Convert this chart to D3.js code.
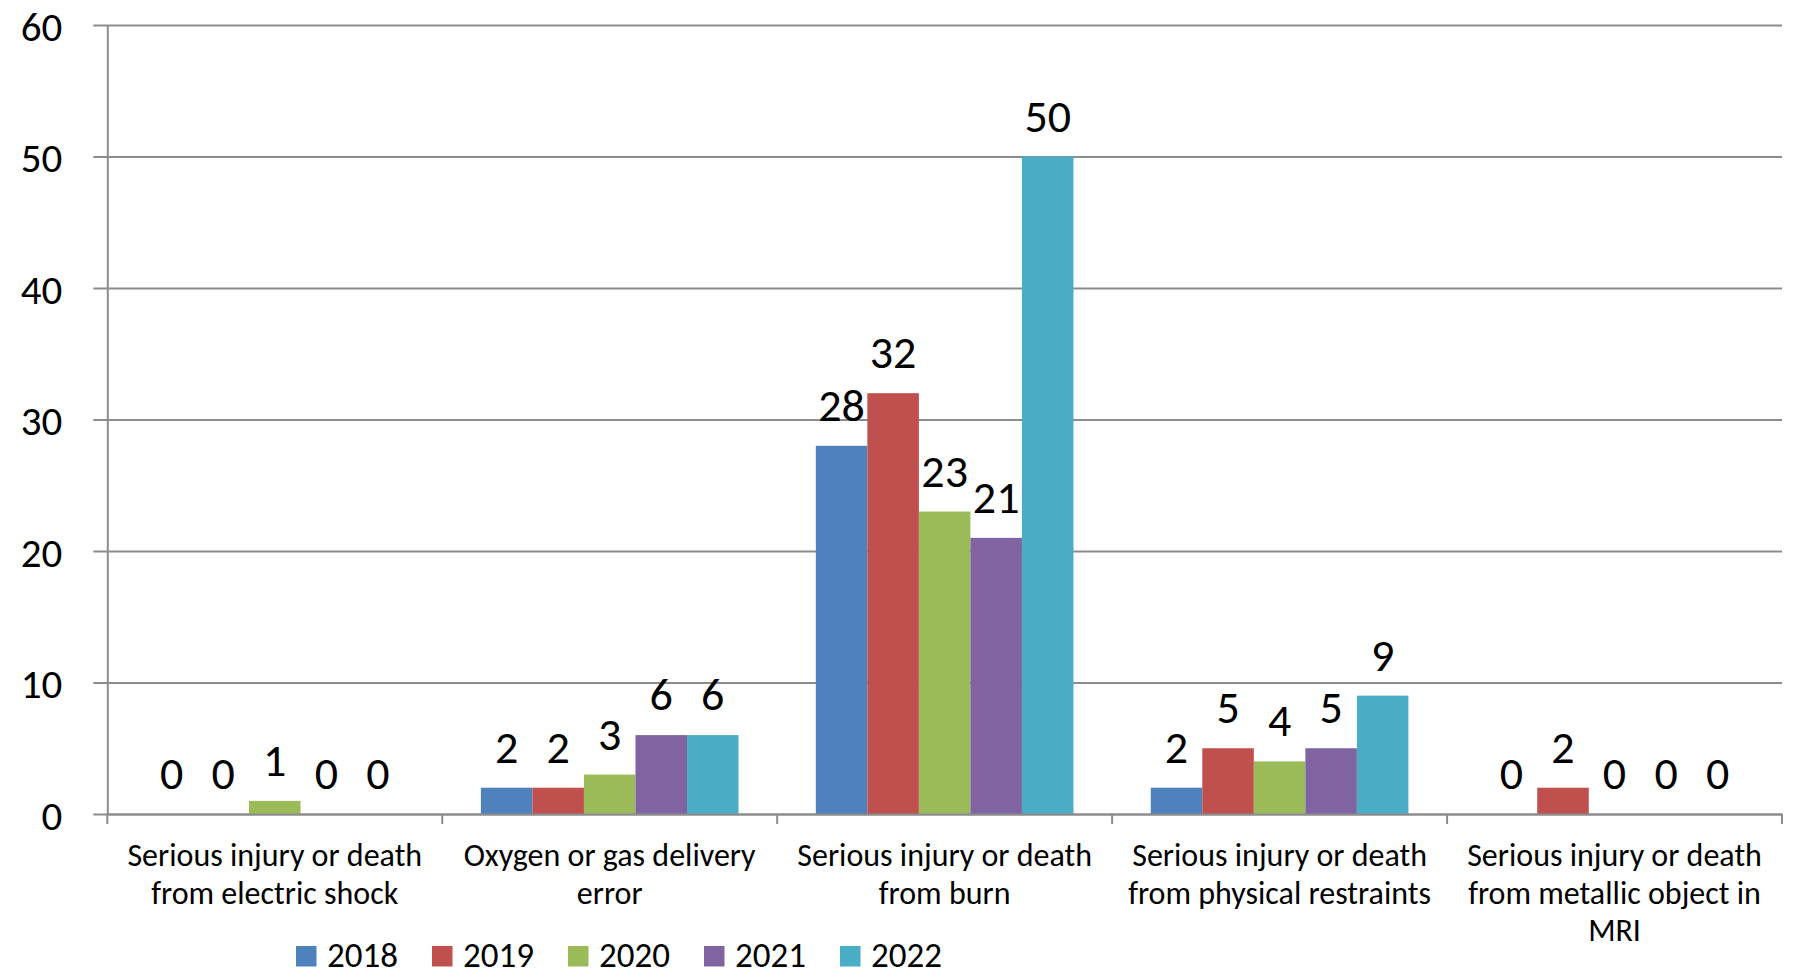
<!DOCTYPE html>
<html>
<head>
<meta charset="utf-8">
<script src="https://cdn.jsdelivr.net/npm/d3@7"></script>
<style>
  html, body { margin: 0; padding: 0; background: #fff; }
  svg { display: block; }
  text { font-family: Carlito, Calibri, Lato, sans-serif; fill: #000; }
</style>
</head>
<body>
<svg id="chart" width="1795" height="977"></svg>
<script>
// Incident categories and yearly counts
const categories = [
  "Serious injury or death from electric shock",
  "Oxygen or gas delivery error",
  "Serious injury or death from burn",
  "Serious injury or death from physical restraints",
  "Serious injury or death from metallic object in MRI"
];
const years = ["2018", "2019", "2020", "2021", "2022"];
const values2018 = [0, 2, 28, 2, 0];
const values2019 = [0, 2, 32, 5, 2];
const values2020 = [1, 3, 23, 4, 0];
const values2021 = [0, 6, 21, 5, 0];
const values2022 = [0, 6, 50, 9, 0];
const yTicks = [0, 10, 20, 30, 40, 50, 60];
const colors = ["#4F81BD", "#C0504D", "#9BBB59", "#8064A2", "#4BACC6"];

const seriesValues = [values2018, values2019, values2020, values2021, values2022];
const series = years.map((yr, i) => ({ year: yr, color: colors[i], values: seriesValues[i] }));

const svg = d3.select("#chart");
const plot = { left: 107.3, right: 1782, top: 25, bottom: 814 };

const y = d3.scaleLinear().domain([0, 60]).range([plot.bottom, plot.top]);
const x0 = d3.scaleBand().domain(categories).range([plot.left, plot.right]).padding(0);
// Bars take 5 of 6.5 slots in each category (150% gap width)
const gap = x0.bandwidth() * 1.5 / 6.5;
const x1 = d3.scaleBand().domain(years).range([gap / 2, x0.bandwidth() - gap / 2]).padding(0);

const gridColor = "#8c8c8c";

// Horizontal gridlines with outward tick stubs
const yAxis = d3.axisLeft(y)
  .tickValues(yTicks)
  .tickSizeInner(-(plot.right - plot.left))
  .tickSizeOuter(0)
  .tickPadding(45)
  .tickFormat(d3.format("d"));

const gy = svg.append("g")
  .attr("transform", `translate(${plot.left},0)`)
  .call(yAxis);
gy.select(".domain").attr("stroke", gridColor).attr("stroke-width", 2);
gy.selectAll(".tick line")
  .attr("stroke", gridColor)
  .attr("stroke-width", 2)
  .attr("x1", -14);
gy.selectAll(".tick text")
  .attr("font-size", 41)
  .attr("dy", "0.37em")
  .style("font-family", "Carlito, Calibri, Lato, sans-serif")
  .attr("fill", "#000");

// Bars
const groups = svg.append("g").selectAll("g.cat")
  .data(categories)
  .join("g")
  .attr("class", "cat")
  .attr("transform", d => `translate(${x0(d)},0)`);

groups.selectAll("rect")
  .data((c, ci) => series.map(s => ({ year: s.year, color: s.color, value: s.values[ci] })))
  .join("rect")
  .attr("x", d => x1(d.year))
  .attr("width", x1.bandwidth())
  .attr("y", d => y(d.value))
  .attr("height", d => y(0) - y(d.value))
  .attr("fill", d => d.color);

// Value labels above bars
groups.selectAll("text.val")
  .data((c, ci) => series.map(s => ({ year: s.year, value: s.values[ci] })))
  .join("text")
  .attr("class", "val")
  .attr("x", d => x1(d.year) + x1.bandwidth() / 2)
  .attr("y", d => y(d.value) - 25)
  .attr("text-anchor", "middle")
  .attr("font-size", 46)
  .text(d => d.value);

// X axis line with category boundary ticks
const xAxis = d3.axisBottom(x0).tickSize(0).tickFormat("");
const gx = svg.append("g")
  .attr("transform", `translate(0,${plot.bottom})`)
  .call(xAxis);
gx.select(".domain").attr("stroke", gridColor).attr("stroke-width", 2);
const bounds = categories.map(c => x0(c)).concat([x0.range()[1]]);
gx.selectAll("line.bound")
  .data(bounds)
  .join("line")
  .attr("class", "bound")
  .attr("x1", d => d).attr("x2", d => d)
  .attr("y1", 0).attr("y2", 10)
  .attr("stroke", gridColor)
  .attr("stroke-width", 2);

// Wrapped category labels
const labelFont = 32;
const lineHeight = 37.5;
const maxLabelWidth = x0.bandwidth() * 0.93;
const labels = svg.append("g").selectAll("text.cat")
  .data(categories)
  .join("text")
  .attr("class", "cat")
  .attr("text-anchor", "middle")
  .attr("font-size", labelFont)
  .attr("x", d => x0(d) + x0.bandwidth() / 2)
  .attr("y", plot.bottom + 52);

labels.each(function (d) {
  const el = d3.select(this);
  const cx = +el.attr("x");
  const words = d.split(" ");
  let lines = [];
  let line = [];
  const probe = el.append("tspan");
  words.forEach(w => {
    const test = line.concat([w]).join(" ");
    probe.text(test);
    if (probe.node().getComputedTextLength() > maxLabelWidth && line.length) {
      lines.push(line.join(" "));
      line = [w];
    } else {
      line.push(w);
    }
  });
  lines.push(line.join(" "));
  probe.remove();
  lines.forEach((t, i) => {
    el.append("tspan").attr("x", cx).attr("dy", i === 0 ? 0 : lineHeight).text(t);
  });
});

// Legend
const legend = svg.append("g").attr("transform", "translate(296,946)");
const legendStep = 136;
const item = legend.selectAll("g")
  .data(series)
  .join("g")
  .attr("transform", (d, i) => `translate(${i * legendStep},0)`);
item.append("rect")
  .attr("width", 20.5).attr("height", 20.5)
  .attr("fill", d => d.color);
item.append("text")
  .attr("x", 31)
  .attr("y", 20.5)
  .attr("font-size", 35)
  .text(d => d.year);
</script>
</body>
</html>
